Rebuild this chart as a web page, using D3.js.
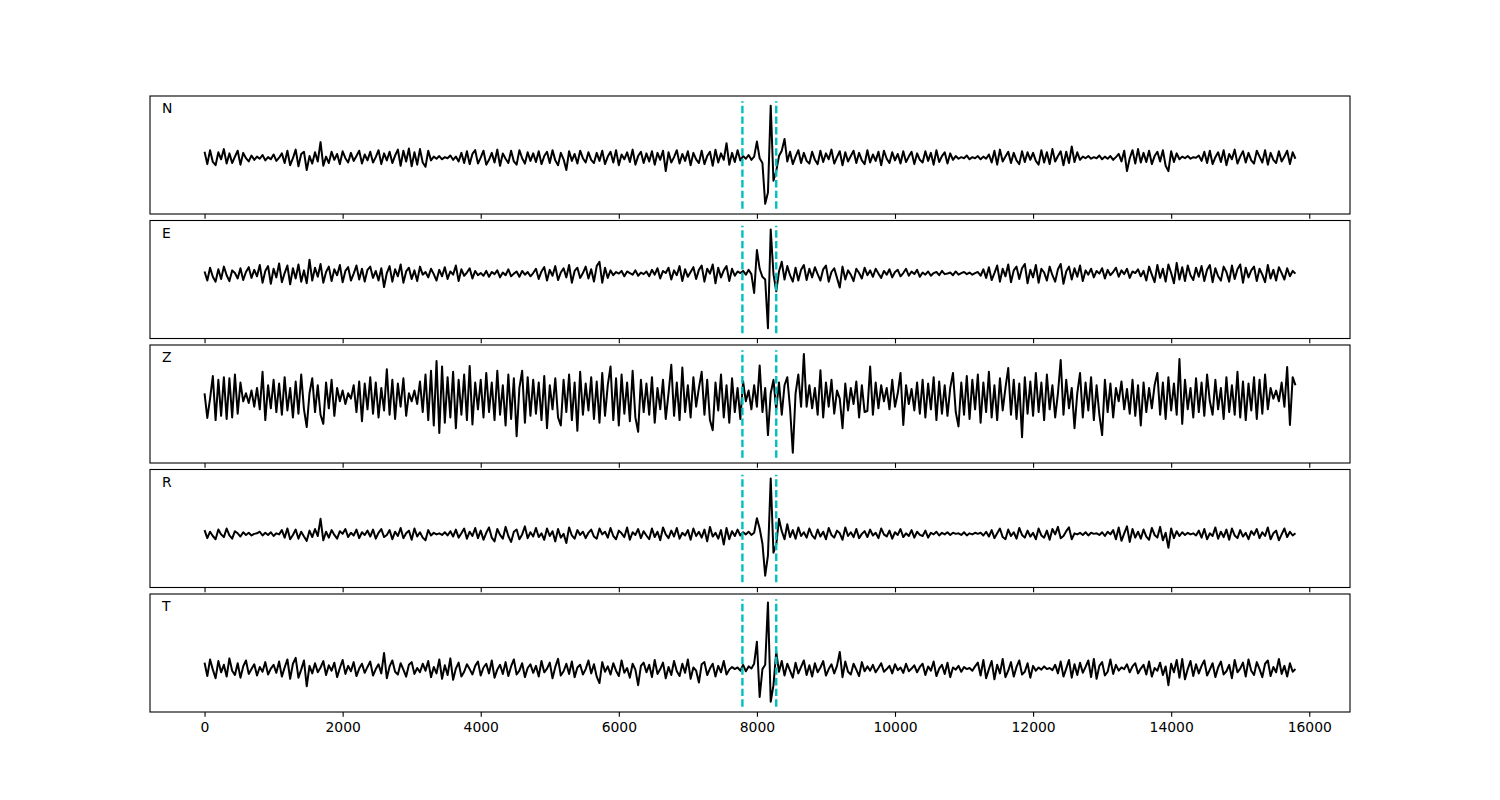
<!DOCTYPE html>
<html>
<head>
<meta charset="utf-8">
<script src="https://cdn.jsdelivr.net/npm/d3@7"></script>
<style>
  body { margin: 0; background: #fff; }
  text { font-family: "DejaVu Sans", sans-serif; }
</style>
</head>
<body>
<script>
// components, top to bottom
var components = ["N", "E", "Z", "R", "T"];

// one sample every 40 units, starting at 0 (amplitudes in hundredths of the peak)
var sampleStep = 40;

var traceN = [
  6,-17,9,-13,-19,5,-8,11,-16,3,-15,-3,8,-18,4,-6,-12,-1,-9,-3,
  -7,0,-10,-4,-8,1,-11,-5,3,-15,8,-19,-6,10,-21,2,6,-28,-2,-16,
  5,-12,24,-20,-3,-15,6,-9,2,-17,7,-6,-14,4,-11,-2,8,-16,1,-10,
  6,-14,-4,9,-17,3,-10,6,-15,-1,10,-20,8,-12,12,-21,5,-18,11,-14,
  -22,8,-10,-3,-7,-2,-8,-4,-6,-1,-9,-3,-12,4,-15,7,-17,2,9,-16,
  -5,8,-18,-9,4,-14,10,-20,3,-7,-15,8,-12,-18,9,-6,-16,5,-11,3,
  -13,7,-17,-2,6,-15,9,-10,-19,4,-8,-28,7,-11,2,-16,8,-6,-14,5,
  -9,-15,4,-11,8,-17,-3,6,-14,9,-19,1,-8,5,-13,10,-18,-2,6,-15,
  3,-12,7,-18,4,-9,8,-30,5,-14,-4,9,-16,2,-11,7,-19,4,-8,-15,
  8,-17,-2,6,-20,10,-14,3,-9,22,-18,4,-13,9,-10,-2,-7,0,-9,-3,
  25,-6,-15,-91,-70,92,-48,-30,-2,8,30,-12,6,-17,-3,9,-15,4,-11,-16,
  6,-9,-17,8,-13,3,-8,10,-16,-4,7,-19,5,-12,-2,8,-15,4,-10,-17,
  9,-14,1,-11,6,-19,8,-7,-15,5,-10,2,-16,7,-13,-3,6,-17,3,-9,
  -14,7,-11,4,-18,9,-13,-2,5,-16,3,-9,-2,-7,-4,-6,-1,-8,-4,-6,
  -2,-8,-3,-7,1,-14,8,-18,10,-12,-3,6,-15,4,-10,-17,7,-13,5,-9,
  4,-11,-18,9,-14,5,-17,11,-12,-2,7,-19,6,-15,16,-13,5,-9,-3,-6,
  -2,-7,-4,-6,-1,-8,-3,-7,-2,-9,-4,2,-12,8,-30,-6,9,-16,11,-14,
  4,-13,8,-17,-2,6,-12,9,-20,-30,7,-13,3,-8,-3,-6,-2,-7,-4,-5,
  -1,-11,6,-15,8,-17,-4,5,-13,9,-19,2,-8,10,-16,-3,7,-14,4,-10,
  -16,8,-3,-14,9,-18,4,-9,-15,7,-12,-3,8,-17,5,-7
];

var traceE = [
  15,-2,22,5,-4,19,1,24,8,-3,17,12,2,21,-1,14,23,3,18,6,
  27,-6,16,25,-8,20,4,30,-5,12,26,-9,21,2,28,-4,17,-7,37,-2,
  22,5,29,-6,14,24,-3,19,8,27,-5,16,23,-2,11,26,0,20,-4,18,
  24,3,16,-2,21,-14,12,25,-4,19,6,28,-6,15,22,1,17,-3,24,9,
  14,4,20,10,-2,18,6,23,1,15,9,26,-3,19,7,13,21,2,16,8,
  12,7,16,5,14,10,17,4,13,8,19,6,11,15,5,16,9,14,6,12,
  20,1,15,23,-2,18,7,25,-1,13,21,4,27,-6,16,22,3,12,24,2,
  19,-4,25,33,-6,22,3,17,8,14,11,16,6,15,12,9,17,7,13,10,
  15,6,18,9,21,2,16,12,22,0,17,8,25,-3,19,5,14,23,1,18,
  26,-4,20,11,28,-7,22,4,17,25,-3,20,7,15,12,16,9,18,10,-25,
  55,20,5,0,-91,93,10,-22,15,33,0,25,8,-4,22,-2,18,27,-1,20,
  4,23,10,-2,19,26,-4,14,21,3,-15,24,0,17,9,-3,20,12,2,22,
  8,17,5,20,11,3,16,9,19,4,14,18,6,12,20,7,15,10,18,5,
  13,9,15,7,12,14,8,16,10,11,13,8,15,9,12,14,10,13,9,12,
  14,7,19,3,23,-1,12,26,-4,20,6,28,-5,17,24,1,21,29,-7,18,
  4,27,-6,20,13,-2,24,8,-4,19,29,-8,15,24,0,21,5,26,-3,17,
  9,20,4,16,11,21,2,18,8,14,22,5,17,10,20,3,15,12,19,6,
  16,-2,24,9,-5,27,3,20,-4,28,12,-7,31,0,23,-3,26,8,-1,22,
  5,25,-3,18,27,-5,21,6,-2,24,14,-4,26,1,19,28,-6,22,4,17,
  24,-3,20,9,-5,27,2,18,-2,23,12,0,21,6,16,11
];

var traceZ = [
  20,-26,10,52,-30,45,-22,50,-28,48,-25,55,-18,40,5,20,2,25,-5,30,
  -10,60,-30,35,-8,45,-15,38,-20,50,-12,30,-25,42,-18,55,-10,-43,20,48,
  -15,35,-20,-37,40,-8,45,-22,30,5,25,0,20,10,35,-15,42,-32,38,-10,
  50,-18,40,-25,30,-12,65,-20,45,-28,38,-5,48,-22,20,5,25,0,42,-15,
  55,-30,62,-40,80,-54,70,-35,50,-25,60,-45,45,-20,55,-30,71,-38,40,-10,
  45,-25,58,-15,40,-30,62,-20,35,-40,55,-28,48,-60,30,62,-35,50,-22,45,
  -18,40,-30,52,-45,35,-10,48,-25,-40,45,-15,55,-30,40,-50,60,-20,38,-12,
  50,-28,42,-35,58,-22,35,70,-30,48,-40,55,-18,40,-32,62,-25,-52,45,-15,
  38,-20,50,-35,30,-10,45,-28,20,73,-22,40,-30,68,-15,35,-25,50,-5,30,
  60,-20,45,-30,-49,40,-12,55,-25,35,-35,48,-15,30,-28,42,5,25,-10,35,
  -5,72,-15,30,-58,20,45,-10,40,-20,35,50,-8,-91,20,55,-5,93,-5,35,
  -8,30,-20,63,-25,40,-5,45,-18,25,10,-45,38,-12,30,0,42,-25,35,-15,
  -13,70,-20,40,-8,35,5,30,-10,45,-5,20,58,-39,35,0,28,-12,40,-18,
  45,-25,38,-10,50,-30,42,-18,35,-22,30,58,-15,-42,40,-20,52,-28,45,-10,
  55,-35,40,-15,60,-25,35,-30,48,-12,30,67,-20,45,-28,38,-62,50,-18,42,
  -22,58,-15,40,-30,55,-10,35,-25,20,82,-20,45,-8,30,-45,20,58,-25,40,
  -12,50,-30,35,-20,-58,45,-15,38,-25,30,5,42,-10,28,-18,45,-22,35,-40,
  40,-15,30,-8,35,58,-20,40,-28,50,-12,38,-20,84,-37,45,-10,30,-25,48,
  -15,40,-22,55,5,-20,45,-10,30,-28,50,-15,35,-20,60,-25,42,-30,38,-12,
  50,-28,45,-18,55,-10,30,10,25,5,40,-5,69,-39,50,35
];

var traceR = [
  -3,-18,-6,-14,-20,-2,-11,-16,0,-13,-19,-5,-9,-15,-7,-12,-8,-13,-10,-9,
  -6,-13,-8,-12,-7,-14,-9,-11,-3,-17,0,-20,-12,-2,-19,-6,-15,-23,-4,-16,
  -1,-14,18,-22,-6,-17,-3,-12,-19,-5,-10,-1,-16,-8,-13,-2,-18,-7,-12,-4,
  -15,-2,-19,-8,-1,-16,-12,-3,-20,-6,-14,1,-18,-9,-4,-21,0,-15,-7,-17,
  -22,-3,-13,-8,-11,-9,-12,-7,-13,-5,-15,-2,-17,-9,0,-19,-6,-14,1,-18,
  -4,-21,-8,2,-17,-24,-1,-12,-19,3,-14,-25,-6,-2,-20,-11,4,-18,-7,-15,
  1,-16,-9,-21,0,-14,-5,-24,-1,-17,-10,-27,2,-13,-19,-3,-12,-6,-18,-8,
  -2,-15,-19,0,-11,-6,-17,1,-14,-20,-4,-9,-16,2,-21,-7,-12,-1,-18,-5,
  -13,-20,0,-16,-6,-22,2,-11,-18,-4,-15,1,-19,-8,-13,-3,-21,0,-14,-6,
  -17,-2,-24,3,-15,-8,-19,-3,-30,1,-20,-5,-14,-2,-13,-7,-11,-6,-12,-8,
  19,0,-28,-88,-50,93,-45,-30,18,-5,-20,8,-16,-3,-19,2,-14,-7,-17,0,
  -13,-19,-2,-15,-6,-20,1,-12,-17,-4,-9,-21,2,-14,-7,-16,-1,-18,-10,-5,
  -16,-2,-13,-8,-18,0,-11,-15,-4,-19,-7,-12,-1,-16,-9,-14,-3,-17,-6,-12,
  -14,-4,-17,-8,-11,-6,-13,-8,-11,-7,-12,-8,-10,-9,-12,-7,-13,-9,-11,-8,
  -10,-8,-13,-6,-15,-3,-18,-9,0,-16,-20,-2,-14,-7,-19,1,-12,-17,-4,-15,
  -8,-20,0,-13,-17,-4,-21,-1,-11,3,-18,-14,-5,2,-20,-9,-11,-8,-12,-7,
  -13,-8,-10,-9,-12,-7,-14,-6,-11,-3,-20,2,-23,-9,4,-25,-1,-17,-6,-19,
  -2,-15,-21,1,-12,-17,3,-22,-8,-36,0,-18,-5,-14,-7,-12,-8,-11,-9,-13,
  -4,-17,-1,-20,-9,-14,2,-19,-6,-16,-2,-21,0,-13,-18,-3,-15,-8,-20,-5,
  -12,-1,-18,-7,-14,2,-20,-9,-4,-22,-11,0,-16,-6,-13,-9
];

var traceT = [
  -18,-43,-12,-31,-47,-15,-36,-22,-44,-10,-33,-41,-19,-46,-25,-14,-39,-30,-21,-42,
  -26,-35,-17,-40,-29,-22,-37,-16,-44,-27,-12,-48,-20,-9,-46,-31,-14,-62,-24,-38,
  -19,-36,-27,-15,-41,-23,-33,-18,-45,-28,-13,-39,-24,-34,-17,-43,-29,-20,-37,-26,
  -16,-42,-30,-21,-38,0,-47,-25,-14,-35,-40,-19,-31,-44,-22,-17,-39,-28,-36,-20,
  -33,-15,-45,-26,-38,-12,-48,-23,-41,-10,-50,-29,-18,-44,-35,-21,-30,-40,-24,-16,
  -42,-27,-20,-38,-14,-46,-31,-22,-39,-17,-43,-25,-12,-40,-33,-19,-45,-28,-21,-37,
  -24,-44,-15,-36,-29,-18,-47,-26,-11,-42,-34,-20,-39,-16,-45,-27,-22,-40,-30,-14,
  -38,-21,-44,-56,-17,-35,-25,-40,-19,-33,-43,-14,-37,-28,-46,-20,-31,-60,-24,-18,
  -36,-22,-45,-13,-39,-30,-18,-47,-26,-41,-15,-34,-43,-20,-37,-12,-48,-27,-33,-55,
  -21,-17,-41,-29,-20,-44,-24,-36,-15,-40,-31,-26,-30,-27,-33,-22,-34,-25,-29,-20,
  21,-82,-30,-22,94,-91,-60,2,-35,-15,-42,-20,-33,-46,-18,-38,-26,-14,-41,-23,
  -44,-19,-36,-27,-15,-42,-30,-21,-38,-24,2,-45,-16,-35,-40,-20,-31,-43,-17,-34,
  -25,-33,-22,-36,-28,-19,-35,-30,-24,-38,-21,-32,-27,-37,-20,-34,-29,-23,-36,-26,
  -20,-41,-25,-33,-16,-43,-29,-22,-39,-18,-45,-27,-31,-24,-35,-26,-30,-28,-33,-25,
  -18,-42,-13,-47,-30,-15,-49,-22,-38,-11,-45,-33,-17,-44,-26,-14,-40,-35,-19,-46,
  -24,-33,-27,-31,-25,-30,-28,-32,-22,-38,-16,-44,-29,-13,-46,-21,-41,-18,-37,-26,
  -14,-45,-11,-48,-24,-17,-42,-35,-12,-39,-22,-33,-27,-30,-21,-36,-25,-19,-38,-29,
  -22,-40,-16,-44,-28,-33,-18,-41,-25,-60,-20,-36,-13,-46,-11,-49,-30,-15,-43,-21,
  -38,-24,-14,-42,-31,-19,-45,-27,-16,-40,-34,-22,-47,-13,-36,-29,-18,-44,-12,-33,
  -41,-17,-30,-45,-20,-14,-43,-26,-36,-11,-39,-24,-44,-19,-35,-30
];

// picked arrivals (dashed markers)
var picks = [7790, 8280];

var xTicks = [0, 2000, 4000, 6000, 8000, 10000, 12000, 14000, 16000];

var traces = { N: traceN, E: traceE, Z: traceZ, R: traceR, T: traceT };

var width = 1500, height = 800;
var left = 150, right = 1350, top0 = 96;
var panelH = 118, panelGap = 6.5;

var svg = d3.select("body").append("svg")
  .attr("width", width)
  .attr("height", height);

svg.append("rect")
  .attr("width", width)
  .attr("height", height)
  .attr("fill", "#fff");

var x = d3.scaleLinear()
  .domain([-790, 16590])
  .range([left, right]);

var y = d3.scaleLinear()
  .domain([-110, 110])
  .range([panelH, 0]);

var line = d3.line()
  .x(function (d, i) { return x(i * sampleStep); })
  .y(function (d) { return y(d); });

components.forEach(function (comp, k) {
  var g = svg.append("g")
    .attr("transform", "translate(0," + (top0 + k * (panelH + panelGap)) + ")");

  // waveform
  g.append("path")
    .datum(traces[comp])
    .attr("fill", "none")
    .attr("stroke", "#000")
    .attr("stroke-width", 2)
    .attr("stroke-linejoin", "round")
    .attr("d", line);

  // arrival markers
  g.selectAll(".pick")
    .data(picks)
    .enter().append("line")
    .attr("class", "pick")
    .attr("x1", function (d) { return x(d); })
    .attr("x2", function (d) { return x(d); })
    .attr("y1", y(-100))
    .attr("y2", y(100))
    .attr("stroke", "#00bfbf")
    .attr("stroke-width", 2.4)
    .attr("stroke-dasharray", "7.4,3.2");

  // bottom ticks, labels only on the last panel
  var axis = d3.axisBottom(x)
    .tickValues(xTicks)
    .tickSize(4.86)
    .tickPadding(4.86)
    .tickFormat(k === components.length - 1 ? d3.format("d") : function () { return ""; });

  var ax = g.append("g")
    .attr("transform", "translate(0," + panelH + ")")
    .call(axis);
  ax.select(".domain").remove();
  ax.selectAll(".tick line").attr("stroke", "#000").attr("stroke-width", 1.1);
  ax.selectAll(".tick text")
    .attr("fill", "#000")
    .style("font-size", "13.9px")
    .style("font-family", "'DejaVu Sans', sans-serif");

  // frame
  g.append("rect")
    .attr("x", left)
    .attr("y", 0)
    .attr("width", right - left)
    .attr("height", panelH)
    .attr("fill", "none")
    .attr("stroke", "#000")
    .attr("stroke-width", 1.1);

  g.append("text")
    .attr("x", left + 12)
    .attr("y", 17)
    .style("font-size", "13.9px")
    .attr("fill", "#000")
    .text(comp);
});
</script>
</body>
</html>
